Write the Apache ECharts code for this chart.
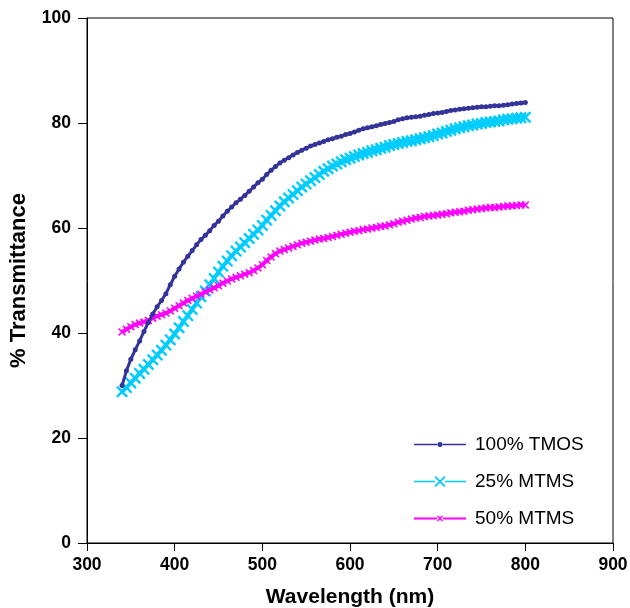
<!DOCTYPE html>
<html>
<head>
<meta charset="utf-8">
<script src="https://cdn.jsdelivr.net/npm/echarts@6/dist/echarts.min.js"></script>
<style>html,body{margin:0;padding:0;background:#fff}#c{width:630px;height:608px}</style>
</head>
<body>
<div id="c"></div>
<script>
var wavelengths = [340,345,350,355,360,365,370,375,380,385,390,395,400,405,410,415,420,425,430,435,440,445,450,455,460,465,470,475,480,485,490,495,500,505,510,515,520,525,530,535,540,545,550,555,560,565,570,575,580,585,590,595,600,605,610,615,620,625,630,635,640,645,650,655,660,665,670,675,680,685,690,695,700,705,710,715,720,725,730,735,740,745,750,755,760,765,770,775,780,785,790,795,800];
var tmos100 = [30.0,32.8,35.0,36.8,38.5,40.3,42.0,43.6,45.0,46.2,47.5,49.2,50.8,52.2,53.5,54.6,55.7,56.8,57.8,58.6,59.5,60.5,61.3,62.3,63.2,64.0,64.8,65.5,66.2,67.0,67.8,68.6,69.3,70.2,71.0,71.7,72.4,72.9,73.4,73.9,74.4,74.8,75.2,75.6,75.9,76.2,76.5,76.8,77.0,77.3,77.5,77.8,78.0,78.3,78.6,78.9,79.1,79.3,79.5,79.7,79.9,80.1,80.3,80.6,80.8,81.0,81.1,81.2,81.3,81.5,81.6,81.8,81.9,82.0,82.2,82.4,82.5,82.6,82.7,82.8,82.9,83.0,83.1,83.1,83.2,83.3,83.3,83.4,83.5,83.6,83.7,83.8,83.9];
var mtms25 = [28.8,29.6,30.5,31.4,32.3,33.1,34.0,34.9,35.8,36.7,37.7,38.7,39.8,41.0,42.2,43.3,44.5,45.7,46.9,48.0,49.2,50.4,51.6,52.7,53.7,54.7,55.6,56.4,57.2,58.0,58.8,59.6,60.5,61.5,62.4,63.3,64.2,65.0,65.7,66.4,67.1,67.8,68.4,69.0,69.6,70.2,70.8,71.3,71.8,72.2,72.6,73.0,73.3,73.6,73.9,74.2,74.4,74.7,74.9,75.2,75.4,75.7,75.9,76.1,76.3,76.5,76.6,76.8,77.0,77.2,77.4,77.6,77.9,78.1,78.4,78.6,78.9,79.1,79.3,79.5,79.6,79.8,79.9,80.1,80.2,80.3,80.4,80.6,80.7,80.8,80.9,81.0,81.1];
var mtms50 = [40.2,40.7,41.2,41.6,41.9,42.1,42.4,42.8,43.2,43.5,43.8,44.2,44.7,45.2,45.7,46.2,46.6,47.0,47.4,47.8,48.2,48.6,49.0,49.5,49.9,50.3,50.6,50.9,51.2,51.5,51.9,52.4,53.0,53.8,54.5,55.1,55.6,55.9,56.2,56.5,56.8,57.1,57.3,57.5,57.7,57.9,58.0,58.2,58.4,58.6,58.8,59.0,59.2,59.4,59.5,59.7,59.8,60.0,60.1,60.3,60.4,60.6,60.8,61.1,61.3,61.5,61.7,61.9,62.0,62.2,62.3,62.4,62.5,62.6,62.7,62.9,63.0,63.1,63.2,63.4,63.5,63.6,63.7,63.8,63.9,63.9,64.0,64.1,64.2,64.2,64.3,64.4,64.4];
var seriesNames = ['100% TMOS','25% MTMS','50% MTMS'];
var xTicks = [300,400,500,600,700,800,900];
var yTicks = [0,20,40,60,80,100];

function pairs(v){ return wavelengths.map(function(w,i){ return [w, v[i]]; }); }
var X = 'path://M0,1.4L1.4,0L5,3.6L8.6,0L10,1.4L6.4,5L10,8.6L8.6,10L5,6.4L1.4,10L0,8.6L3.6,5Z';
var FONT = '"Liberation Sans", Arial, Helvetica, sans-serif';

// legend icons (52 x 12 box): line segments + marker
var iconTmos = 'path://M0,5.3L23.2,5.3L23.2,6.7L0,6.7Z M28.8,5.3L52,5.3L52,6.7L28.8,6.7Z M23.5,6A2.5,2.5 0 1 0 28.5,6A2.5,2.5 0 1 0 23.5,6Z';
var iconM25 = 'path://M0,5.3L21,5.3L21,6.7L0,6.7Z M31,5.3L52,5.3L52,6.7L31,6.7Z M20.5,1.8L21.8,0.5L26,4.7L30.2,0.5L31.5,1.8L27.3,6L31.5,10.2L30.2,11.5L26,7.3L21.8,11.5L20.5,10.2L24.7,6Z';
var iconM50 = 'path://M0,5L23,5L23,7L0,7Z M29,5L52,5L52,7L29,7Z M23,4L24,3L26,5L28,3L29,4L27,6L29,8L28,9L26,7L24,9L23,8L25,6Z';

var chart = echarts.init(document.getElementById('c'));
chart.setOption({
  animation: false,
  backgroundColor: '#fff',
  textStyle: { fontFamily: FONT },
  grid: { left: 87, right: 17, top: 18, bottom: 65, show: true, borderColor: '#000', borderWidth: 1, containLabel: false, outerBoundsMode: 'none' },
  xAxis: {
    type: 'value', min: xTicks[0], max: xTicks[xTicks.length-1], interval: 100,
    name: 'Wavelength (nm)', nameLocation: 'middle', nameGap: 44,
    nameTextStyle: { fontFamily: FONT, fontWeight: 'bold', fontSize: 21, color: '#000' },
    axisLine: { show: true, lineStyle: { color: '#000', width: 1 } },
    axisTick: { show: true, inside: false, length: 8, lineStyle: { color: '#000' } },
    axisLabel: { color: '#000', fontWeight: 'bold', fontSize: 17.5, fontFamily: FONT, margin: 13 },
    splitLine: { show: false }
  },
  yAxis: {
    type: 'value', min: yTicks[0], max: yTicks[yTicks.length-1], interval: 20,
    name: '% Transmittance', nameLocation: 'middle', nameGap: 57, nameRotate: 90,
    nameTextStyle: { fontFamily: FONT, fontWeight: 'bold', fontSize: 22, color: '#000' },
    axisLine: { show: true, lineStyle: { color: '#000', width: 1 } },
    axisTick: { show: true, inside: false, length: 9, lineStyle: { color: '#000' } },
    axisLabel: { color: '#000', fontWeight: 'bold', fontSize: 17.5, fontFamily: FONT, margin: 16 },
    splitLine: { show: false }
  },
  legend: {
    orient: 'vertical', left: 409, top: 430, itemWidth: 52, itemHeight: 12, itemGap: 18,
    textStyle: { fontFamily: FONT, fontSize: 19, color: '#000', padding: [0,0,0,4] },
    data: [
      { name: seriesNames[0], icon: iconTmos },
      { name: seriesNames[1], icon: iconM25 },
      { name: seriesNames[2], icon: iconM50 }
    ]
  },
  series: [
    { name: seriesNames[1], type: 'line', data: pairs(mtms25), symbol: X, symbolSize: 12,
      lineStyle: { color: '#00CCFF', width: 4 }, itemStyle: { color: '#00CCFF' }, z: 2 },
    { name: seriesNames[2], type: 'line', data: pairs(mtms50), symbol: X, symbolSize: 8,
      lineStyle: { color: '#FF00FF', width: 4 }, itemStyle: { color: '#FF00FF' }, z: 3 },
    { name: seriesNames[0], type: 'line', data: pairs(tmos100), symbol: 'circle', symbolSize: 5,
      lineStyle: { color: '#333399', width: 3 }, itemStyle: { color: '#333399' }, z: 4 }
  ]
});
</script>
</body>
</html>
